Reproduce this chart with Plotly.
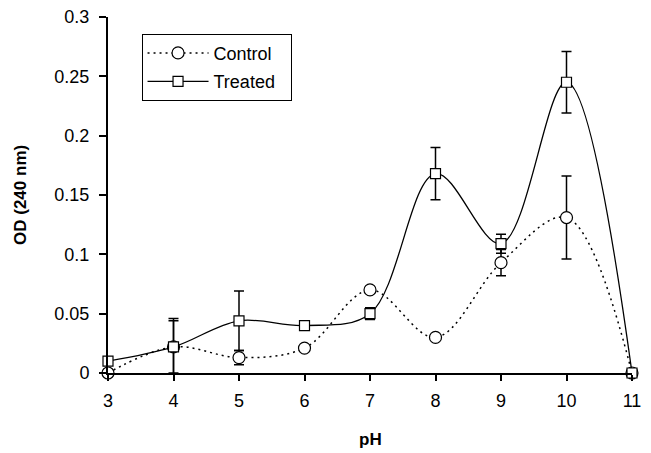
import plotly.graph_objects as go

ph = [3, 4, 5, 6, 7, 8, 9, 10, 11]
control = [0.0, 0.022, 0.013, 0.021, 0.070, 0.030, 0.093, 0.131, 0.0]
control_err = [0.0, 0.022, 0.006, 0.0, 0.0, 0.0, 0.011, 0.035, 0.0]
treated = [0.010, 0.022, 0.044, 0.040, 0.050, 0.168, 0.109, 0.245, 0.0]
treated_err = [0.003, 0.024, 0.025, 0.002, 0.005, 0.022, 0.008, 0.026, 0.0]

y_ticks = [0, 0.05, 0.1, 0.15, 0.2, 0.25, 0.3]
y_tick_labels = ["0", "0.05", "0.1", "0.15", "0.2", "0.25", "0.3"]

FONT = "Liberation Sans, Arial, sans-serif"
PAD = "\u00a0\u00a0"

fig = go.Figure()
fig.add_trace(go.Scatter(
    x=ph, y=control, name="Control" + PAD, mode="lines+markers", legendgroup="c",
    line=dict(color="black", width=1.5, dash="2px,4px", shape="spline", smoothing=1.0),
    marker=dict(symbol="circle", size=12, color="white", line=dict(color="black", width=1.2)),
    error_y=dict(type="data", array=control_err, color="black", thickness=1.5, width=5),
    cliponaxis=False,
))
fig.add_trace(go.Scatter(
    x=ph, y=treated, name="Treated" + PAD, mode="lines+markers", legendgroup="t",
    line=dict(color="black", width=1.3, shape="spline", smoothing=1.0),
    marker=dict(symbol="square", size=10, color="white", line=dict(color="black", width=1.2)),
    error_y=dict(type="data", array=treated_err, color="black", thickness=1.5, width=5),
    cliponaxis=False,
))

fig.update_layout(
    width=651, height=453,
    margin=dict(l=108, r=19, t=17, b=80),
    paper_bgcolor="white", plot_bgcolor="white",
    font=dict(family=FONT, size=18, color="black"),
    showlegend=True,
    legend=dict(
        x=0.064, y=0.953, xanchor="left", yanchor="top",
        bordercolor="black", borderwidth=1, bgcolor="white",
        font=dict(size=18), traceorder="grouped", tracegroupgap=2, itemwidth=61,
    ),
    xaxis=dict(
        range=[3, 11], tickvals=ph, ticktext=[str(v) for v in ph],
        showgrid=False, zeroline=False, showline=True, linecolor="black", linewidth=2,
        ticks="outside", ticklen=6, tickwidth=1.5, tickcolor="black",
        automargin=False, ticklabeloverflow="allow", ticklabelstandoff=4,
    ),
    yaxis=dict(
        range=[0, 0.3], tickvals=y_ticks, ticktext=y_tick_labels,
        showgrid=False, zeroline=False, showline=True, linecolor="black", linewidth=2,
        ticks="outside", ticklen=7, tickwidth=1.5, tickcolor="black",
        automargin=False, ticklabeloverflow="allow", ticklabelstandoff=6,
    ),
    annotations=[
        dict(text="<b>pH</b>", xref="paper", yref="paper", x=0.5, y=-0.188,
             xanchor="center", yanchor="middle", showarrow=False,
             font=dict(family=FONT, size=17)),
        dict(text="<b>OD (240 nm)</b>", xref="paper", yref="paper", x=-0.168, y=0.5,
             xanchor="center", yanchor="middle", showarrow=False, textangle=-90,
             font=dict(family=FONT, size=17)),
    ],
)

fig.write_html("out.html", config={"displayModeBar": False},
               post_script="document.body.style.margin='0';")
